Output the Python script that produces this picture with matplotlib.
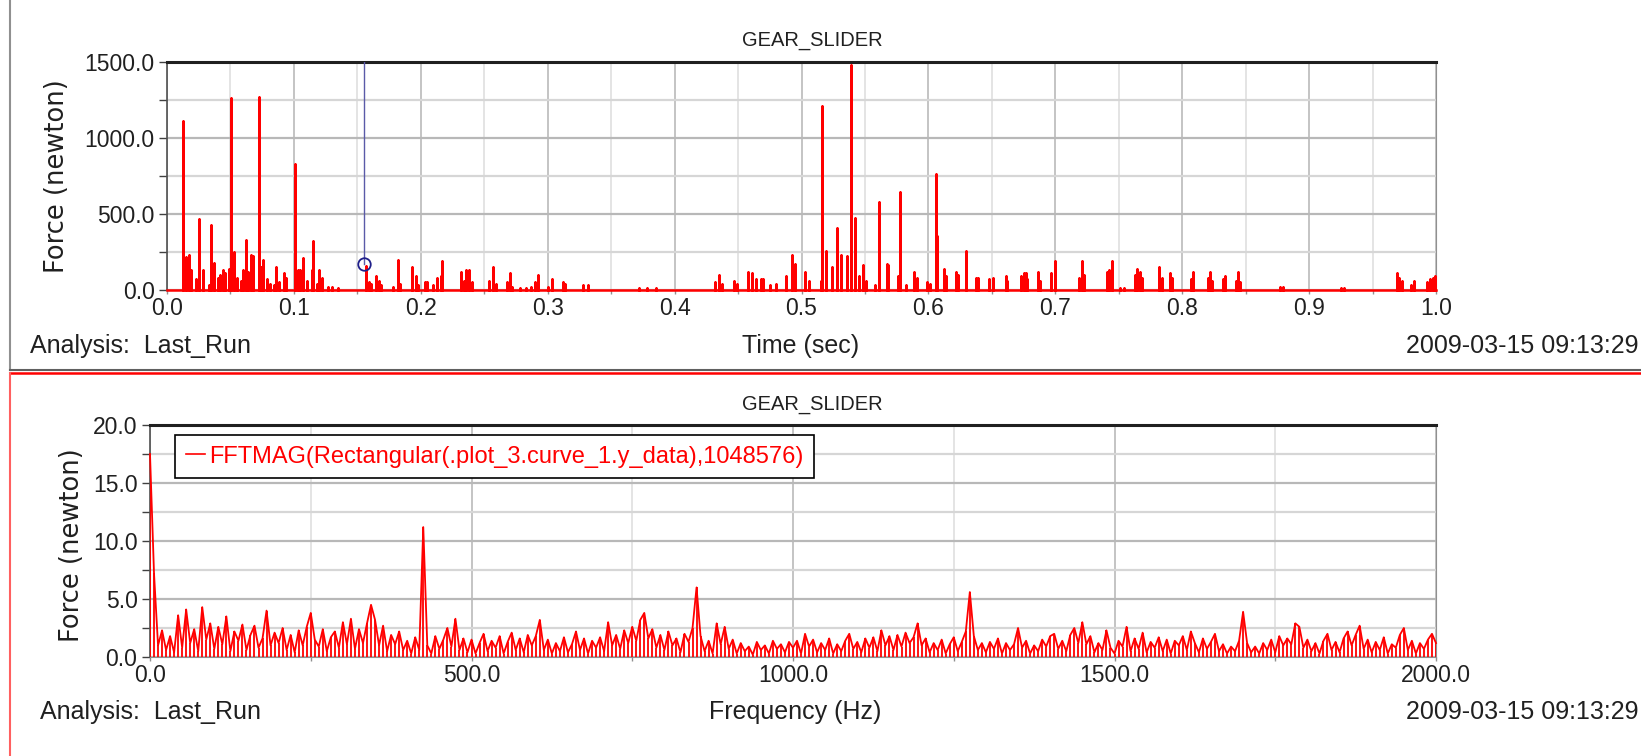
import numpy as np
import matplotlib
matplotlib.use("Agg")
import matplotlib.pyplot as plt
from matplotlib.ticker import MultipleLocator, FormatStrFormatter
from matplotlib.lines import Line2D

# ---- time domain: spike times (sec) and peak force (newton)
spike_t = [0.013, 0.015, 0.017, 0.019, 0.023, 0.025, 0.028, 0.033, 0.035, 0.037,
           0.040, 0.042, 0.044, 0.046, 0.049, 0.0505, 0.053, 0.055, 0.058, 0.060,
           0.062, 0.064, 0.066, 0.068, 0.0725, 0.074, 0.076, 0.079, 0.081, 0.084,
           0.086, 0.088, 0.092, 0.094, 0.1005, 0.103, 0.105, 0.107, 0.110, 0.114,
           0.115, 0.118, 0.120, 0.122, 0.127, 0.130, 0.135, 0.157, 0.159, 0.161,
           0.165, 0.167, 0.169, 0.178, 0.182, 0.184, 0.193, 0.196, 0.198, 0.203,
           0.205, 0.210, 0.213, 0.216, 0.217, 0.232, 0.234, 0.236, 0.238, 0.240,
           0.254, 0.257, 0.259, 0.268, 0.270, 0.272, 0.278, 0.283, 0.287, 0.290,
           0.292, 0.300, 0.303, 0.312, 0.314, 0.328, 0.332, 0.372, 0.378, 0.385,
           0.432, 0.435, 0.437, 0.447, 0.449, 0.458, 0.461, 0.464, 0.468, 0.470,
           0.475, 0.480, 0.488, 0.4929, 0.495, 0.503, 0.506, 0.515, 0.5158, 0.5197,
           0.5237, 0.5276, 0.5315, 0.5359, 0.5394, 0.5422, 0.545, 0.5485, 0.551, 0.5576,
           0.5607, 0.567, 0.5682, 0.5757, 0.5773, 0.582, 0.589, 0.591, 0.5986, 0.601,
           0.6057, 0.607, 0.6124, 0.614, 0.6215, 0.623, 0.6293, 0.6372, 0.6388, 0.648,
           0.6506, 0.661, 0.662, 0.6727, 0.675, 0.677, 0.678, 0.686, 0.6877, 0.697,
           0.6995, 0.719, 0.7212, 0.723, 0.7405, 0.742, 0.7449, 0.7508, 0.754, 0.7626,
           0.7646, 0.7666, 0.768, 0.782, 0.784, 0.790, 0.7918, 0.8068, 0.8088, 0.8206,
           0.8218, 0.8233, 0.8324, 0.8336, 0.8423, 0.8438, 0.8454, 0.877, 0.8793, 0.925,
           0.9275, 0.969, 0.9712, 0.973, 0.980, 0.9826, 0.993, 0.9953, 0.9976, 0.9992]
spike_f = [1110, 220, 230, 130, 70, 465, 130, 30, 430, 180,
           80, 100, 130, 110, 140, 1265, 250, 80, 60, 130,
           330, 120, 230, 225, 1270, 150, 200, 70, 40, 30,
           150, 50, 110, 80, 830, 130, 130, 210, 60, 130,
           320, 40, 130, 80, 20, 20, 15, 160, 50, 40,
           90, 60, 30, 20, 200, 40, 150, 90, 30, 55,
           55, 30, 80, 90, 190, 120, 60, 130, 130, 50,
           60, 150, 40, 50, 110, 20, 15, 15, 20, 50,
           100, 20, 70, 50, 40, 30, 30, 10, 15, 10,
           50, 100, 40, 60, 40, 120, 110, 70, 70, 70,
           30, 40, 95, 232, 170, 120, 60, 60, 1208, 254,
           150, 405, 232, 222, 1480, 475, 90, 163, 60, 30,
           577, 170, 165, 90, 648, 30, 120, 80, 50, 40,
           760, 355, 140, 90, 120, 100, 258, 80, 80, 70,
           80, 90, 60, 90, 110, 110, 70, 120, 60, 110,
           190, 80, 190, 100, 120, 130, 190, 15, 15, 100,
           140, 120, 80, 150, 80, 110, 80, 70, 120, 80,
           120, 60, 70, 90, 60, 120, 50, 20, 20, 10,
           10, 110, 80, 60, 30, 60, 50, 70, 80, 90]

cursor_t = 0.155
cursor_f = 170

# ---- frequency domain: FFT magnitude, one value per 6.25 Hz bin from 0 to 2000 Hz
fft_step = 6.25
fft_mag = [
    17.5, 7.2, 1.0, 2.3, 0.6, 1.8, 0.4, 3.6, 0.8, 4.1, 1.2, 2.4, 0.5, 4.3, 1.5, 2.9,
    0.7, 2.6, 1.1, 3.5, 0.5, 2.2, 1.4, 2.8, 0.6, 1.9, 2.7, 0.8, 1.6, 4.0, 1.0, 2.1,
    1.2, 2.5, 0.6, 1.9, 0.4, 2.3, 1.0, 2.6, 3.8, 1.5, 0.9, 2.4, 0.5, 1.7, 2.2, 0.8,
    3.0, 1.1, 3.3, 0.7, 2.4, 1.2, 2.9, 4.5, 3.2, 1.0, 2.7, 0.5, 1.9, 1.1, 2.2, 0.6,
    1.4, 0.3, 1.7, 0.6, 11.2, 1.0, 0.3, 1.8, 0.7, 1.5, 2.5, 0.9, 3.3, 0.6, 1.6, 0.4,
    1.5, 0.3, 1.2, 2.0, 0.5, 1.4, 0.8, 1.8, 0.3, 1.3, 2.1, 0.6, 1.6, 0.4, 1.9, 1.0,
    1.8, 3.2, 0.6, 1.5, 0.3, 1.2, 0.5, 1.7, 0.4, 1.1, 2.2, 0.6, 1.6, 0.3, 1.4, 0.8,
    1.7, 0.5, 3.0, 1.0, 1.9, 0.7, 2.3, 1.2, 2.6, 1.4, 3.2, 3.8, 1.6, 2.4, 0.8, 1.9,
    0.6, 2.2, 1.0, 1.6, 0.4, 2.0, 1.3, 2.5, 6.0, 1.8, 0.5, 1.4, 0.3, 2.9, 1.1, 2.6,
    0.7, 1.5, 0.3, 1.2, 0.5, 0.9, 0.2, 1.3, 0.6, 1.0, 0.3, 1.4, 0.7, 1.1, 0.4, 1.3,
    0.8, 1.4, 0.3, 2.0, 0.9, 1.5, 0.4, 1.2, 0.6, 1.6, 0.3, 1.1, 0.5, 1.4, 2.0, 0.7,
    1.3, 0.4, 1.6, 0.8, 1.7, 0.5, 2.3, 1.0, 1.8, 0.6, 1.9, 0.9, 2.1, 1.2, 1.7, 2.9,
    1.0, 1.6, 0.4, 1.2, 0.6, 1.5, 0.3, 1.1, 1.7, 0.5, 1.3, 2.2, 5.6, 1.8, 0.6, 1.2,
    0.4, 1.3, 0.7, 1.6, 0.3, 1.2, 0.6, 1.1, 2.5, 0.8, 1.4, 0.3, 1.0, 0.5, 1.5, 0.9,
    1.8, 2.0, 0.7, 1.4, 0.5, 1.9, 2.5, 1.2, 3.0, 1.1, 1.8, 0.4, 1.2, 0.6, 2.3, 0.8,
    0.3, 1.4, 0.9, 2.6, 0.5, 1.6, 0.7, 2.1, 0.4, 1.3, 0.8, 1.7, 0.5, 1.5, 0.3, 1.4,
    1.0, 1.8, 0.6, 2.2, 1.2, 0.4, 1.6, 0.7, 1.3, 2.0, 0.5, 1.1, 0.3, 0.9, 0.5, 1.4,
    3.9, 1.2, 0.4, 0.9, 0.3, 1.2, 0.6, 1.5, 0.4, 1.8, 1.0, 1.6, 1.1, 2.9, 2.6, 0.8,
    1.5, 0.5, 1.2, 0.3, 1.4, 2.0, 0.6, 1.3, 0.4, 1.6, 2.2, 1.0, 1.9, 2.7, 0.7, 1.5,
    0.4, 1.3, 0.6, 1.7, 0.3, 1.1, 0.8, 1.9, 2.5, 0.6, 1.4, 0.3, 1.2, 0.7, 1.5, 2.0,
    1.2,
]
fft_freq = np.arange(len(fft_mag)) * fft_step

legend_label = "FFTMAG(Rectangular(.plot_3.curve_1.y_data),1048576)"
stamp = "2009-03-15 09:13:29"

W, H = 1641, 756
FONT = ["Liberation Sans", "DejaVu Sans"]
RED = "#ff0000"

fig = plt.figure(figsize=(W / 100, H / 100), dpi=100)
fig.patch.set_facecolor("white")


def px_axes(left, top, right, bottom):
    return fig.add_axes([left / W, 1 - bottom / H, (right - left) / W, (bottom - top) / H])


def style_axes(ax, xmaj, xmin, ymaj, ymin, xfmt):
    ax.xaxis.set_major_locator(MultipleLocator(xmaj))
    ax.xaxis.set_minor_locator(MultipleLocator(xmin))
    ax.yaxis.set_major_locator(MultipleLocator(ymaj))
    ax.yaxis.set_minor_locator(MultipleLocator(ymin))
    ax.xaxis.set_major_formatter(FormatStrFormatter(xfmt))
    ax.yaxis.set_major_formatter(FormatStrFormatter("%.1f"))
    ax.grid(which="major", axis="y", color="#b8b8b8", lw=1.6)
    ax.grid(which="minor", axis="y", color="#d6d6d6", lw=1.6)
    ax.grid(which="major", axis="x", color="#b4b4b4", lw=1.1)
    ax.grid(which="minor", axis="x", color="#dddddd", lw=1.1)
    ax.set_axisbelow(True)
    ax.spines["top"].set_color("#202020")
    ax.spines["top"].set_linewidth(2.2)
    ax.spines["left"].set_color("#505050")
    ax.spines["left"].set_linewidth(1.2)
    ax.spines["right"].set_color("#909090")
    ax.spines["bottom"].set_color("#909090")
    ax.tick_params(axis="y", which="both", direction="out", length=6, width=1,
                   color="#404040", pad=3)
    ax.tick_params(axis="x", which="both", direction="out", length=3, width=1,
                   color="#909090", pad=2)
    for lab in ax.get_xticklabels() + ax.get_yticklabels():
        lab.set_fontfamily(FONT)
        lab.set_fontsize(16.5)
        lab.set_color("#202020")


# ---------------- top panel: time history
ax1 = px_axes(167, 62, 1436, 290)
xs, ys = [0.0], [0.0]
for t, f in zip(spike_t, spike_f):
    xs += [t, t, t]
    ys += [0.0, f, 0.0]
xs.append(1.0)
ys.append(0.0)
ax1.plot(xs, ys, color=RED, lw=1.8, clip_on=False, zorder=3)
ax1.plot([cursor_t, cursor_t], [cursor_f, 1500], color="#5a5aa8", lw=1.0, zorder=4)
ax1.plot([cursor_t], [cursor_f], marker="o", ms=9, mfc="none", mec="#20208a",
         mew=1.3, zorder=5)
ax1.set_xlim(0, 1)
ax1.set_ylim(0, 1500)
style_axes(ax1, 0.1, 0.05, 500, 250, "%.1f")

# ---------------- bottom panel: FFT magnitude
ax2 = px_axes(150, 425, 1436, 657)
ax2.vlines(fft_freq, 0, fft_mag, color=RED, lw=1.3, zorder=3)
ax2.plot(fft_freq, fft_mag, color=RED, lw=1.3, zorder=3, clip_on=False)
ax2.set_xlim(0, 2000)
ax2.set_ylim(0, 20)
style_axes(ax2, 500, 250, 5, 2.5, "%.1f")
handle = Line2D([], [], color=RED, lw=1.2)
leg = ax2.legend([handle], [legend_label], loc="upper left",
                 bbox_to_anchor=((175 - 150) / 1286, 1 - (435 - 425) / 232),
                 borderaxespad=0, fancybox=False, framealpha=1, edgecolor="#000000",
                 handlelength=0.8, handletextpad=0.2, borderpad=0.45,
                 prop={"family": FONT, "size": 17}, labelcolor=RED)
leg.get_frame().set_linewidth(1.2)

# ---------------- panel texts
txt = dict(fontfamily=FONT, fontsize=18, color="#202020", va="center")
ttl = dict(fontfamily=FONT, fontsize=14.5, color="#202020", va="center", ha="center")
fig.text(812 / W, 1 - 40 / H, "GEAR_SLIDER", **ttl)
fig.text(30 / W, 1 - 346 / H, "Analysis:  Last_Run", ha="left", **txt)
fig.text(801 / W, 1 - 346 / H, "Time (sec)", ha="center", **txt)
fig.text(1638 / W, 1 - 346 / H, stamp, ha="right", **txt)

fig.text(812 / W, 1 - 405 / H, "GEAR_SLIDER", **ttl)
fig.text(40 / W, 1 - 712 / H, "Analysis:  Last_Run", ha="left", **txt)
fig.text(795 / W, 1 - 712 / H, "Frequency (Hz)", ha="center", **txt)
fig.text(1638 / W, 1 - 712 / H, stamp, ha="right", **txt)

ylab = dict(fontfamily="DejaVu Sans", fontsize=18.5, color="#202020", rotation=90,
            ha="center", va="center")
fig.text(57 / W, 1 - 176 / H, "Force (newton)", **ylab)
fig.text(72 / W, 1 - 545 / H, "Force (newton)", **ylab)

# ---------------- window frames
fig.add_artist(Line2D([10 / W, 10 / W], [1, 1 - 370 / H], color="#909090", lw=1.5,
                      transform=fig.transFigure))
fig.add_artist(Line2D([10 / W, 1], [1 - 370 / H, 1 - 370 / H], color="#606060", lw=1.5,
                      transform=fig.transFigure))
fig.add_artist(Line2D([10 / W, 1], [1 - 373 / H, 1 - 373 / H], color=RED, lw=1.8,
                      transform=fig.transFigure))
fig.add_artist(Line2D([10 / W, 10 / W], [1 - 373 / H, 0], color="#ff6060", lw=1.5,
                      transform=fig.transFigure))

fig.savefig("out.png", dpi=100, facecolor="white")
